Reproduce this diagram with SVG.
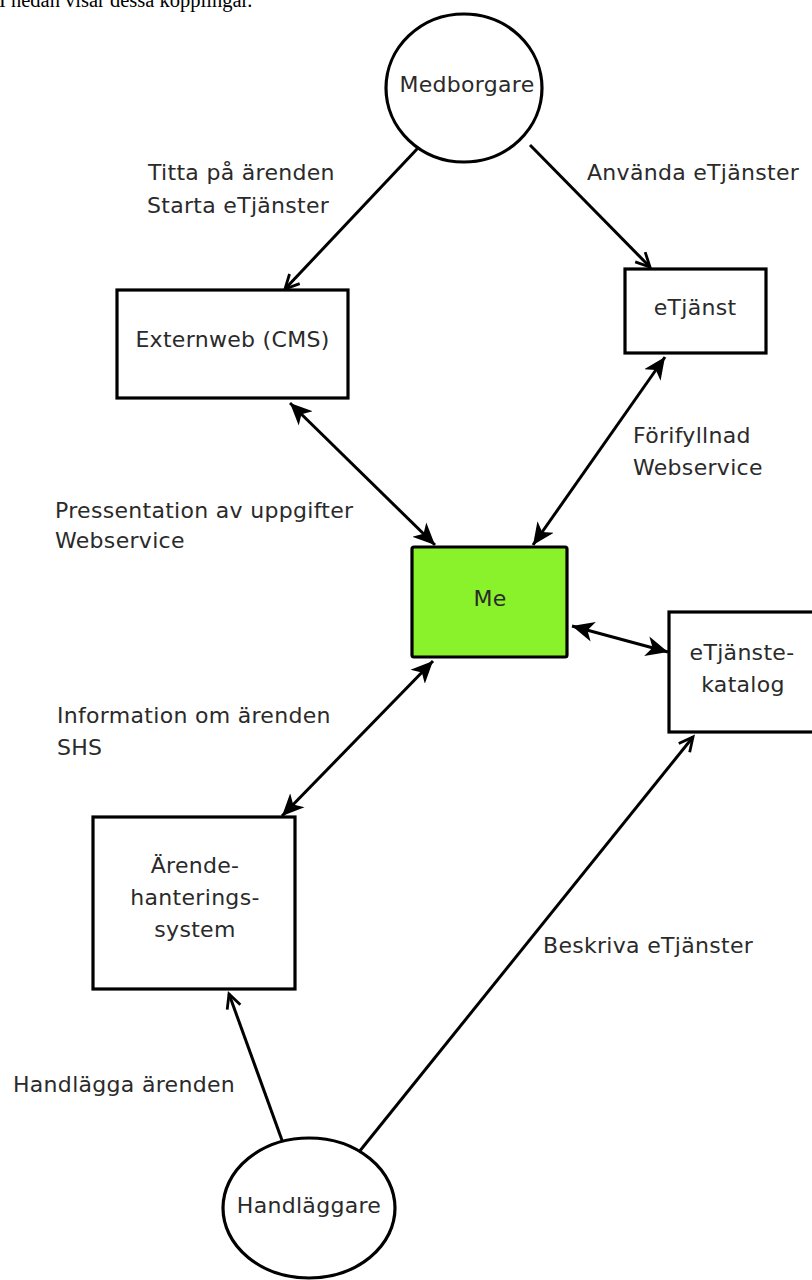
<svg xmlns="http://www.w3.org/2000/svg" width="812" height="1280" viewBox="0 0 812 1280">
  <style>
    .lbl { font-family: "DejaVu Sans", "Noto Sans", sans-serif; font-size: 22px; letter-spacing: 0.3px; fill: #2a2a2a; }
    .mid { text-anchor: middle; }
    .shape { fill: #ffffff; stroke: #000000; stroke-width: 3.2; }
    .edge { fill: none; stroke: #000000; stroke-width: 3; }
    .intro { font-family: "Liberation Serif", "Times New Roman", serif; font-size: 20.5px; fill: #000000; }
  </style>
  <defs>
    <!-- open line arrowhead for one-way flows -->
    <marker id="open" markerUnits="userSpaceOnUse" markerWidth="20" markerHeight="20" viewBox="0 0 20 20" refX="16" refY="10" orient="auto">
      <path d="M2,3 L16,10 L2,17" fill="none" stroke="#000" stroke-width="2.8"/>
    </marker>
    <!-- filled notched arrowhead for two-way exchanges -->
    <marker id="solid" markerUnits="userSpaceOnUse" markerWidth="24" markerHeight="22" viewBox="0 0 24 22" refX="22" refY="11" orient="auto-start-reverse">
      <path d="M0,1 L22,11 L0,21 L6,11 Z" fill="#000"/>
    </marker>
  </defs>

  <rect width="812" height="1280" fill="#ffffff"/>

  <text class="intro" x="-1" y="7">I nedan visar dessa kopplingar.</text>

  <g id="connectors">
    <line class="edge" x1="418" y1="148" x2="285" y2="289" marker-end="url(#open)"/>
    <line class="edge" x1="530" y1="145" x2="650" y2="267" marker-end="url(#open)"/>
    <line class="edge" x1="290" y1="403" x2="435" y2="545" marker-start="url(#solid)" marker-end="url(#solid)"/>
    <line class="edge" x1="665" y1="357" x2="533" y2="545" marker-start="url(#solid)" marker-end="url(#solid)"/>
    <line class="edge" x1="572" y1="626" x2="668" y2="652" marker-start="url(#solid)" marker-end="url(#solid)"/>
    <line class="edge" x1="433" y1="661" x2="282" y2="816" marker-start="url(#solid)" marker-end="url(#solid)"/>
    <line class="edge" x1="283" y1="1143" x2="229" y2="994" marker-end="url(#open)"/>
    <line class="edge" x1="359" y1="1152" x2="693" y2="737" marker-end="url(#open)"/>

    <text class="lbl" x="148" y="180">Titta på ärenden</text>
    <text class="lbl" x="147" y="213">Starta eTjänster</text>
    <text class="lbl" x="587" y="180">Använda eTjänster</text>
    <text class="lbl" x="633" y="443">Förifyllnad</text>
    <text class="lbl" x="633" y="475">Webservice</text>
    <text class="lbl" x="55" y="518">Pressentation av uppgifter</text>
    <text class="lbl" x="55" y="548">Webservice</text>
    <text class="lbl" x="57" y="723">Information om ärenden</text>
    <text class="lbl" x="57" y="755">SHS</text>
    <text class="lbl" x="543" y="953">Beskriva eTjänster</text>
    <text class="lbl" x="13" y="1092">Handlägga ärenden</text>
  </g>

  <g id="medborgare">
    <ellipse class="shape" cx="464" cy="88" rx="78" ry="74"/>
    <text class="lbl mid" x="467" y="92">Medborgare</text>
  </g>

  <g id="externweb">
    <rect class="shape" x="117" y="290" width="231" height="108"/>
    <text class="lbl mid" x="232.5" y="347">Externweb (CMS)</text>
  </g>

  <g id="etjanst">
    <rect class="shape" x="625" y="269" width="141" height="84"/>
    <text class="lbl mid" x="695" y="315">eTjänst</text>
  </g>

  <g id="me">
    <rect x="412" y="547" width="155" height="110" rx="2" fill="#89f22a" stroke="#000" stroke-width="3.2"/>
    <text class="lbl mid" x="490" y="606">Me</text>
  </g>

  <g id="etjanstekatalog">
    <rect class="shape" x="669" y="612" width="146" height="120"/>
    <text class="lbl mid" x="742" y="660">eTjänste-</text>
    <text class="lbl mid" x="743" y="692">katalog</text>
  </g>

  <g id="arendehantering">
    <rect class="shape" x="93" y="817" width="202" height="172"/>
    <text class="lbl mid" x="195" y="873">Ärende-</text>
    <text class="lbl mid" x="195" y="905">hanterings-</text>
    <text class="lbl mid" x="195" y="937">system</text>
  </g>

  <g id="handlaggare">
    <ellipse class="shape" cx="309" cy="1208" rx="86" ry="70"/>
    <text class="lbl mid" x="309" y="1213">Handläggare</text>
  </g>
</svg>
